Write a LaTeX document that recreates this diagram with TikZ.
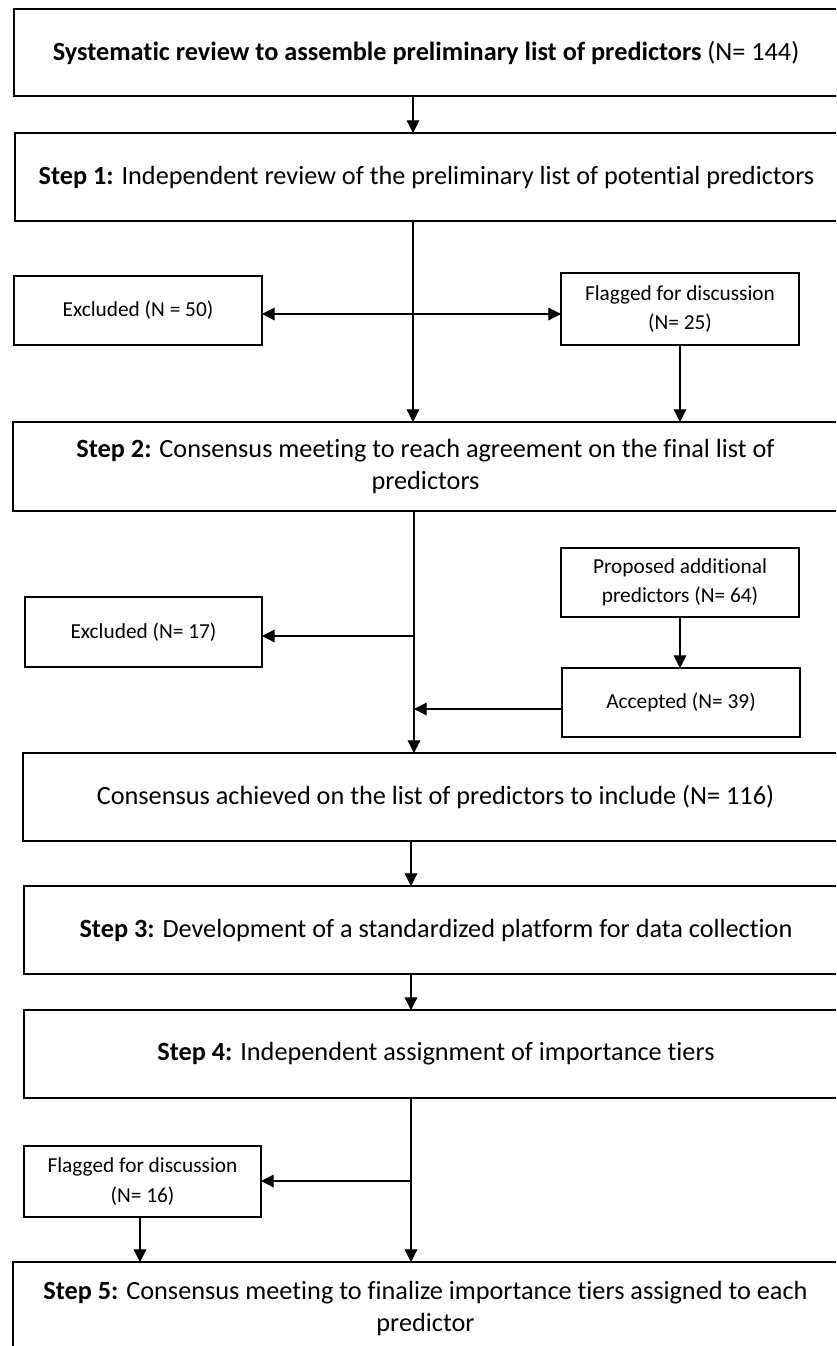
\documentclass[tikz,border=0pt]{standalone}
\usepackage{fontspec}
\setmainfont{Carlito}[Ligatures=NoCommon]
\usetikzlibrary{arrows.meta}
\begin{document}
\begin{tikzpicture}[x=0.75pt,y=-0.75pt,
  box/.style={draw, line width=1.6pt, inner sep=0pt, outer sep=0pt, align=center, font=\fontsize{19.7}{24}\selectfont},
  sbox/.style={box, font=\fontsize{16}{22}\selectfont},
  sz/.style 2 args={minimum width=#1*0.75pt, minimum height=#2*0.75pt},
  arr/.style={line width=0.9pt, -{Triangle[length=9.5pt,width=9.5pt]}}]
\path[use as bounding box] (0,0) rectangle (836,1346);
\clip (0,0) rectangle (836,1346);
\fill[white] (0,0) rectangle (836,1346);

\node[box, sz={824}{87}] (A) at (426,52.5) {\textbf{Systematic review to assemble preliminary list of predictors} (N= 144)};
\node[box, sz={823}{88}] (S1) at (426.5,177) {\textbf{Step 1:} Independent review of the preliminary list of potential predictors};
\node[sbox, sz={248}{69}] (Ex50) at (138,310.5) {Excluded (N = 50)};
\node[sbox, sz={238}{72}] (Fl25) at (680,309) {Flagged for discussion\\(N= 25)};
\node[box, sz={825}{89}] (S2) at (425.5,466.5) {\textbf{Step 2:} Consensus meeting to reach agreement on the final list of\\predictors};
\node[sbox, sz={238}{69}] (Prop) at (680,582.5) {Proposed additional\\predictors (N= 64)};
\node[sbox, sz={237}{70}] (Ex17) at (143.5,632) {Excluded (N= 17)};
\node[sbox, sz={238}{69}] (Acc) at (681,702.5) {Accepted (N= 39)};
\node[box, sz={825}{88}] (Cons) at (435.5,797) {Consensus achieved on the list of predictors to include (N= 116)};
\node[box, sz={824}{88}] (S3) at (436,930) {\textbf{Step 3:} Development of a standardized platform for data collection};
\node[box, sz={824}{88}] (S4) at (436,1054) {\textbf{Step 4:} Independent assignment of importance tiers};
\node[sbox, sz={237}{71}] (Fl16) at (142.5,1181.5) {Flagged for discussion\\(N= 16)};
\node[box, sz={825}{92}] (S5) at (425.5,1308) {\textbf{Step 5:} Consensus meeting to finalize importance tiers assigned to each\\predictor};

\coordinate (x1) at (413,0);
\coordinate (x2) at (414,0);
\coordinate (x3) at (411,0);
\coordinate (x4) at (140,0);
\coordinate (j1) at (413,314);
\coordinate (j2) at (414,636);
\coordinate (j3) at (414,709);
\coordinate (j4) at (411,1181);

\draw[arr] (A.south -| x1) -- (S1.north -| x1);
\draw[arr] (S1.south -| x1) -- (S2.north -| x1);
\draw[arr] (j1) -- (Ex50.east |- j1);
\draw[arr] (j1) -- (Fl25.west |- j1);
\draw[arr] (Fl25.south) -- (S2.north -| Fl25.south);
\draw[arr] (S2.south -| x2) -- (Cons.north -| x2);
\draw[arr] (j2) -- (Ex17.east |- j2);
\draw[arr] (Prop.south) -- (Acc.north -| Prop.south);
\draw[arr] (Acc.west |- j3) -- (j3);
\draw[arr] (Cons.south -| x3) -- (S3.north -| x3);
\draw[arr] (S3.south -| x3) -- (S4.north -| x3);
\draw[arr] (S4.south -| x3) -- (S5.north -| x3);
\draw[arr] (j4) -- (Fl16.east |- j4);
\draw[arr] (Fl16.south -| x4) -- (S5.north -| x4);
\end{tikzpicture}
\end{document}
